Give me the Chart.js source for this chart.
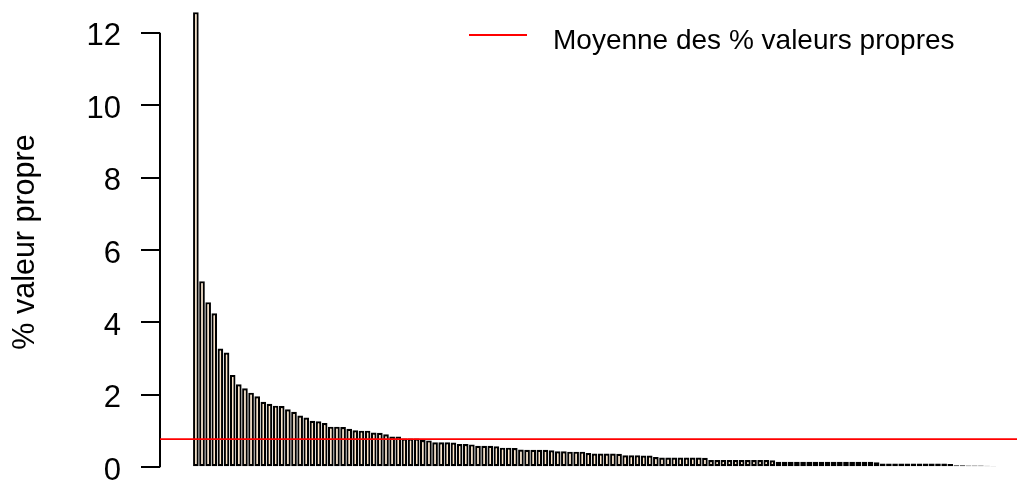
<!DOCTYPE html>
<html><head><meta charset="utf-8">
<script src="https://cdn.jsdelivr.net/npm/chart.js@4"></script>
<style>html,body{margin:0;padding:0;background:#fff}canvas{display:block}</style>
</head><body>
<canvas id="c" width="1017" height="484"></canvas>
<script>
// ---- data ----
const valeurs = [
  12.57, 5.14, 4.56, 4.25, 3.28, 3.17, 2.55, 2.29, 2.18, 2.06,
  1.96, 1.81, 1.75, 1.70, 1.69, 1.60, 1.53, 1.43, 1.37, 1.28,
  1.27, 1.22, 1.12, 1.12, 1.11, 1.06, 1.02, 1.01, 1.01, 0.96,
  0.95, 0.91, 0.85, 0.85, 0.79, 0.79, 0.79, 0.75, 0.74, 0.69,
  0.69, 0.69, 0.68, 0.64, 0.64, 0.63, 0.59, 0.59, 0.59, 0.58,
  0.54, 0.54, 0.53, 0.49, 0.48, 0.48, 0.48, 0.48, 0.47, 0.44,
  0.44, 0.43, 0.43, 0.43, 0.39, 0.38, 0.38, 0.38, 0.38, 0.37,
  0.33, 0.33, 0.33, 0.32, 0.32, 0.28, 0.27, 0.27, 0.27, 0.27,
  0.27, 0.27, 0.27, 0.26, 0.20, 0.20, 0.20, 0.20, 0.20, 0.20,
  0.20, 0.20, 0.20, 0.20, 0.19, 0.15, 0.15, 0.15, 0.15, 0.15,
  0.15, 0.15, 0.15, 0.15, 0.15, 0.15, 0.15, 0.15, 0.15, 0.15,
  0.15, 0.14, 0.10, 0.10, 0.10, 0.10, 0.10, 0.10, 0.10, 0.10,
  0.10, 0.10, 0.10, 0.09, 0.055, 0.055, 0.05, 0.05, 0.05, 0.04,
  0.035
];
const moyenne = 0.775;
const yTicks = [0, 2, 4, 6, 8, 10, 12];
const yTitle = '% valeur propre';
const legendLabel = 'Moyenne des % valeurs propres';
const composantes = valeurs.map((_, i) => i + 1);

// R barplot layout: width 1, space 0.2
const points = composantes.map((k, i) => ({ x: 1.2 * k - 0.5, y: valeurs[i] }));

Chart.defaults.font.family = "'Liberation Sans', Arial, sans-serif";
Chart.defaults.color = '#000';

const extras = {
  id: 'extras',
  afterDatasetsDraw(chart) {
    const { ctx, chartArea, scales: { y } } = chart;
    ctx.save();
    // y axis line from 0 to 12
    ctx.strokeStyle = '#000';
    ctx.lineWidth = 2;
    ctx.beginPath();
    ctx.moveTo(chartArea.left, y.getPixelForValue(yTicks[0]));
    ctx.lineTo(chartArea.left, y.getPixelForValue(yTicks[yTicks.length - 1]));
    ctx.stroke();
    // mean line
    const ym = y.getPixelForValue(moyenne);
    ctx.strokeStyle = '#FF0000';
    ctx.lineWidth = 1.8;
    ctx.beginPath();
    ctx.moveTo(chartArea.left, ym);
    ctx.lineTo(chartArea.right, ym);
    ctx.stroke();
    // legend
    ctx.beginPath();
    ctx.moveTo(469, 35);
    ctx.lineTo(527, 35);
    ctx.stroke();
    ctx.fillStyle = '#000';
    ctx.font = "28px 'Liberation Sans', Arial, sans-serif";
    ctx.textAlign = 'left';
    ctx.textBaseline = 'alphabetic';
    ctx.fillText(legendLabel, 553, 49);
    ctx.restore();
  }
};

new Chart(document.getElementById('c'), {
  type: 'bar',
  data: {
    datasets: [{
      data: points,
      backgroundColor: '#FFE4C4',
      borderColor: '#000',
      borderWidth: 2.2,
      borderSkipped: false,
      categoryPercentage: 1,
      barPercentage: 0.92
    }]
  },
  options: {
    responsive: false,
    animation: false,
    devicePixelRatio: 1,
    layout: { padding: 0 },
    plugins: { legend: { display: false }, tooltip: { enabled: false } },
    scales: {
      x: {
        type: 'linear',
        display: false,
        offset: false,
        min: -6.32,
        max: 161.36
      },
      y: {
        type: 'linear',
        min: -0.464,
        max: 12.906,
        border: { display: false },
        grid: { drawOnChartArea: false, drawTicks: true, tickLength: 19, color: '#000', lineWidth: 2 },
        ticks: { padding: 20, labelOffset: 4, font: { size: 31 }, color: '#000' },
        title: { display: true, text: yTitle, font: { size: 30.5 }, color: '#000', padding: { top: 7, bottom: 0 } },
        afterBuildTicks(scale) { scale.ticks = yTicks.map(v => ({ value: v })); },
        afterFit(scale) { scale.width = 160; scale.paddingTop = 0; scale.paddingBottom = 0; }
      }
    }
  },
  plugins: [extras]
});
</script>
</body></html>
